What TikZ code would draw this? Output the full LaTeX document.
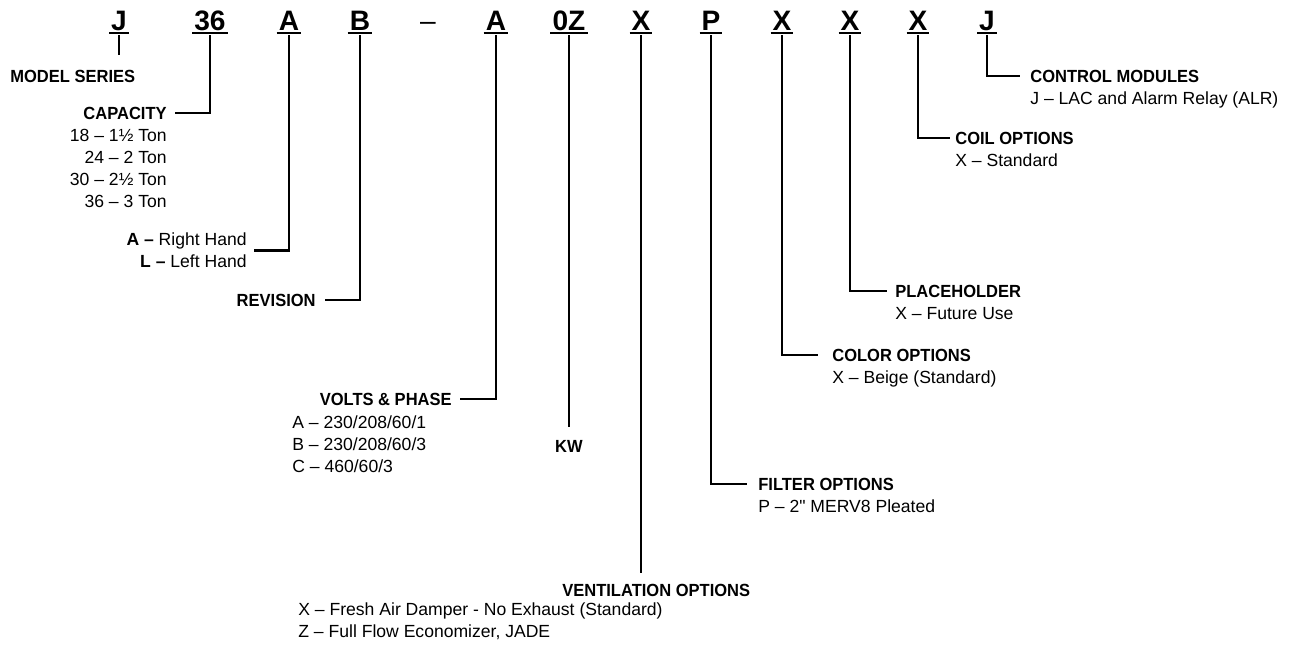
\documentclass[tikz,border=0pt]{standalone}
\usepackage{fontspec}
\setmainfont{Liberation Sans}
\newfontfamily\labelfont[FakeStretch=0.94]{Liberation Sans}
\newfontfamily\quotefont[Ligatures=ResetAll]{Liberation Sans}
\usetikzlibrary{positioning}

\tikzset{
  code/.style={font=\fontsize{16}{16}\selectfont\bfseries, anchor=base, inner xsep=1pt, inner ysep=1.6pt, text depth=0pt},
  uline/.style={line width=1.1pt},
  lead/.style={line width=1.6pt},
  thinlead/.style={line width=1.1pt},
  head/.style={font=\fontsize{10}{12.5}\selectfont\labelfont\bfseries, inner sep=0pt},
  opts/.style={font=\fontsize{10}{12.5}\selectfont, inner sep=0pt},
}

\begin{document}
\begin{tikzpicture}[x=0.02cm,y=-0.02cm]
\useasboundingbox (0,0) rectangle (1289,646);
% the model number
\foreach \n/\t/\x in {kJ/J/119, k36/36/210, kA/A/289, kB/B/360, kV/A/496, kKW/0Z/569, kVent/X/641, kF/P/711, kCol/X/782, kPh/X/850, kCoil/X/918, kCtl/J/987} {
  \node[code] (\n) at (\x,30) {\t};
  \draw[uline] (\n.south west) -- (\n.south east);
}
\node[code, font=\fontsize{16}{16}\selectfont] (kdash) at (428,30) {--};

% left side
\node[head, anchor=west] (series) at (10,76) {MODEL SERIES};
\node[head, anchor=east] (cap) at (167,113) {CAPACITY};
\node[opts, align=right, below=5.3pt of cap.south east, anchor=north east] (capl) {18 -- 1½ Ton\\24 -- 2 Ton\\30 -- 2½ Ton\\36 -- 3 Ton};
\node[opts, align=right, anchor=north east] (hand) at (247,232.5) {\textbf{A --} Right Hand\\\textbf{L --} Left Hand};
\node[head, anchor=east] (rev) at (316,300) {REVISION};
\node[head, anchor=east] (volts) at (452,399) {VOLTS \& PHASE};
\node[opts, align=left, anchor=north west] (voltl) at (292,415.5) {A -- 230/208/60/1\\B -- 230/208/60/3\\C -- 460/60/3};
\node[head] (kw) at (569,446) {KW};
\node[head, anchor=west] (vent) at (562,590) {VENTILATION OPTIONS};
\node[opts, align=left, anchor=north west] (ventl) at (298,602) {X -- Fresh Air Damper - No Exhaust (Standard)\\Z -- Full Flow Economizer, JADE};

% right side
\node[head, anchor=west] (filt) at (758,484) {FILTER OPTIONS};
\node[opts, below=5.3pt of filt.south west, anchor=north west] (filtl) {P -- 2{\quotefont"} MERV8 Pleated};
\node[head, anchor=west] (col) at (832,355) {COLOR OPTIONS};
\node[opts, below=5.3pt of col.south west, anchor=north west] (coll) {X -- Beige (Standard)};
\node[head, anchor=west] (ph) at (895,291) {PLACEHOLDER};
\node[opts, below=5.3pt of ph.south west, anchor=north west] (phl) {X -- Future Use};
\node[head, anchor=west] (coil) at (955,138) {COIL OPTIONS};
\node[opts, below=5.3pt of coil.south west, anchor=north west] (coill) {X -- Standard};
\node[head, anchor=west] (ctl) at (1030,76) {CONTROL MODULES};
\node[opts, below=5.3pt of ctl.south west, anchor=north west] (ctll) {J -- LAC and Alarm Relay (ALR)};

% leaders
\draw[thinlead] ([yshift=-1.2pt]kJ.south) -- ([yshift=8pt]series.north -| kJ.south);
\draw[lead] ([yshift=-1.2pt]k36.south) |- ([xshift=4.5pt]cap.east);
\draw[lead] ([yshift=-1.2pt]kA.south) |- ([xshift=4pt]hand.east);
\draw[lead] ([yshift=-1.2pt]kB.south) |- ([xshift=5pt]rev.east);
\draw[lead] ([yshift=-1.2pt]kV.south) |- ([xshift=4.5pt]volts.east);
\draw[lead] ([yshift=-1.2pt]kKW.south) -- ([yshift=7pt]kw.north -| kKW.south);
\draw[lead] ([yshift=-1.2pt]kVent.south) -- ([yshift=6pt]vent.north -| kVent.south);
\draw[lead] ([yshift=-1.2pt]kF.south) |- ([xshift=-6pt]filt.west);
\draw[lead] ([yshift=-1.2pt]kCol.south) |- ([xshift=-8pt]col.west);
\draw[lead] ([yshift=-1.2pt]kPh.south) |- ([xshift=-4.5pt]ph.west);
\draw[lead] ([yshift=-1.2pt]kCoil.south) |- ([xshift=-3pt]coil.west);
\draw[lead] ([yshift=-1.2pt]kCtl.south) |- ([xshift=-5.5pt]ctl.west);
\end{tikzpicture}
\end{document}
